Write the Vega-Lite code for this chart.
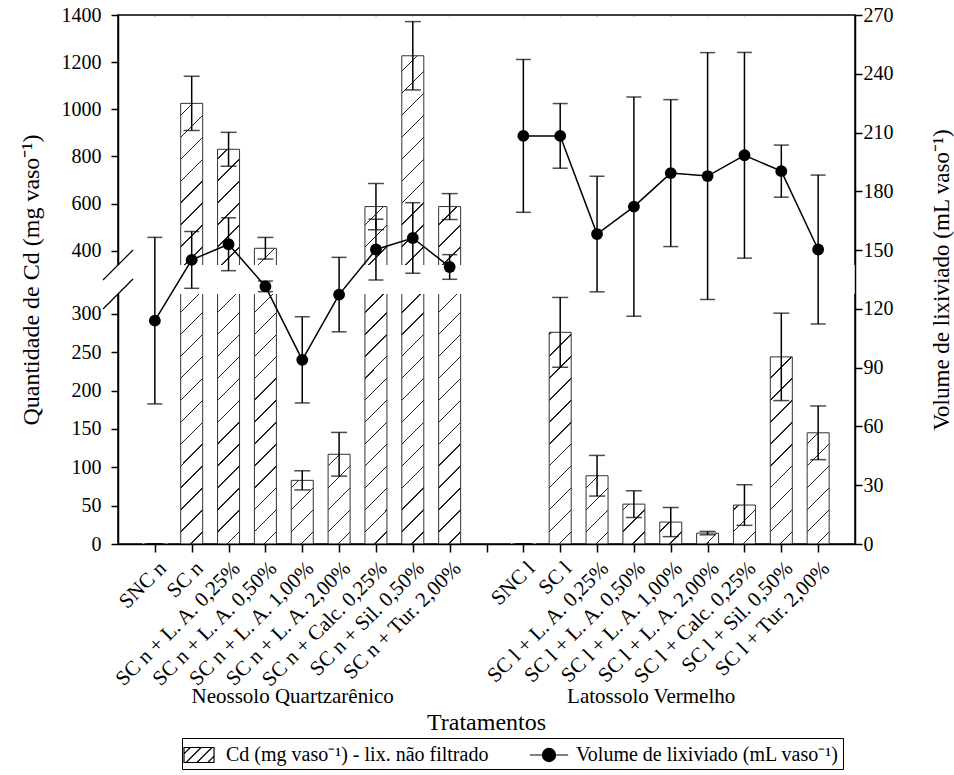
{
  "$schema": "https://vega.github.io/schema/vega-lite/v6.json",
  "width": 737,
  "height": 529,
  "autosize": {"type": "none"},
  "padding": {"left": 118, "top": 15, "right": 99, "bottom": 231},
  "background": "white",
  "config": {
    "font": "Liberation Serif",
    "view": {"stroke": "black", "strokeWidth": 1.5},
    "axis": {"labelFont": "Liberation Serif", "titleFont": "Liberation Serif", "labelColor": "black", "titleColor": "black", "domainColor": "black", "tickColor": "black", "grid": false, "labelFontSize": 20, "titleFontSize": 24, "titleFontWeight": "normal", "domainWidth": 1.5, "tickWidth": 1.5, "tickSize": 7}
  },
  "title": {"text": "Tratamentos", "orient": "bottom", "frame": "group", "anchor": "middle", "font": "Liberation Serif", "fontSize": 24, "fontWeight": "normal", "color": "black", "offset": -59},
  "data": {"values": [
    {"trat": "SNC n", "solo": "Neossolo Quartzarênico", "cd": 0, "cd_err": 0, "vol": 114, "vol_err": 42.5},
    {"trat": "SC n", "solo": "Neossolo Quartzarênico", "cd": 1025, "cd_err": 115, "vol": 145, "vol_err": 14.5},
    {"trat": "SC n + L. A. 0,25%", "solo": "Neossolo Quartzarênico", "cd": 830, "cd_err": 72, "vol": 153, "vol_err": 13.5},
    {"trat": "SC n + L. A. 0,50%", "solo": "Neossolo Quartzarênico", "cd": 410, "cd_err": 46, "vol": 131.5, "vol_err": 2.7},
    {"trat": "SC n + L. A. 1,00%", "solo": "Neossolo Quartzarênico", "cd": 83, "cd_err": 12.5, "vol": 94, "vol_err": 22},
    {"trat": "SC n + L. A. 2,00%", "solo": "Neossolo Quartzarênico", "cd": 117, "cd_err": 28.5, "vol": 127.3, "vol_err": 19},
    {"trat": "SC n + Calc. 0,25%", "solo": "Neossolo Quartzarênico", "cd": 587, "cd_err": 98, "vol": 150.3, "vol_err": 15.5},
    {"trat": "SC n + Sil. 0,50%", "solo": "Neossolo Quartzarênico", "cd": 1227, "cd_err": 145, "vol": 156.2, "vol_err": 18},
    {"trat": "SC n + Tur. 2,00%", "solo": "Neossolo Quartzarênico", "cd": 587, "cd_err": 55, "vol": 141.4, "vol_err": 6.3},
    {"trat": "SNC l", "solo": "Latossolo Vermelho", "cd": 0, "cd_err": 0, "vol": 208.3, "vol_err": 39},
    {"trat": "SC l", "solo": "Latossolo Vermelho", "cd": 276, "cd_err": 45.5, "vol": 208.3, "vol_err": 16.5},
    {"trat": "SC l + L. A. 0,25%", "solo": "Latossolo Vermelho", "cd": 89, "cd_err": 26.5, "vol": 158.2, "vol_err": 29.5},
    {"trat": "SC l + L. A. 0,50%", "solo": "Latossolo Vermelho", "cd": 52, "cd_err": 17.5, "vol": 172.2, "vol_err": 56},
    {"trat": "SC l + L. A. 1,00%", "solo": "Latossolo Vermelho", "cd": 28.6, "cd_err": 19, "vol": 189.3, "vol_err": 37.5},
    {"trat": "SC l + L. A. 2,00%", "solo": "Latossolo Vermelho", "cd": 14.2, "cd_err": 2.2, "vol": 187.8, "vol_err": 63},
    {"trat": "SC l + Calc. 0,25%", "solo": "Latossolo Vermelho", "cd": 50.8, "cd_err": 26.5, "vol": 198.4, "vol_err": 52.5},
    {"trat": "SC l + Sil. 0,50%", "solo": "Latossolo Vermelho", "cd": 244, "cd_err": 57, "vol": 190.3, "vol_err": 13.3},
    {"trat": "SC l + Tur. 2,00%", "solo": "Latossolo Vermelho", "cd": 145, "cd_err": 35, "vol": 150.3, "vol_err": 38}
  ]},
  "layer": [
    {
      "layer": [
        {
          "mark": {"type": "bar", "width": 22, "stroke": null, "fill": {"gradient": "linear", "x1": 0, "y1": 0, "x2": 0.0434, "y2": 1.0399, "stops": [
            {"offset": 0, "color": "white"},
            {"offset": 0.0187, "color": "white"}, {"offset": 0.0187, "color": "#222"}, {"offset": 0.0213, "color": "#222"}, {"offset": 0.0213, "color": "white"},
            {"offset": 0.0586, "color": "white"}, {"offset": 0.0586, "color": "#222"}, {"offset": 0.0612, "color": "#222"}, {"offset": 0.0612, "color": "white"},
            {"offset": 0.0985, "color": "white"}, {"offset": 0.0985, "color": "#222"}, {"offset": 0.1011, "color": "#222"}, {"offset": 0.1011, "color": "white"},
            {"offset": 0.1384, "color": "white"}, {"offset": 0.1384, "color": "#222"}, {"offset": 0.1410, "color": "#222"}, {"offset": 0.1410, "color": "white"},
            {"offset": 0.1783, "color": "white"}, {"offset": 0.1783, "color": "#222"}, {"offset": 0.1809, "color": "#222"}, {"offset": 0.1809, "color": "white"},
            {"offset": 0.2182, "color": "white"}, {"offset": 0.2182, "color": "#222"}, {"offset": 0.2208, "color": "#222"}, {"offset": 0.2208, "color": "white"},
            {"offset": 0.2581, "color": "white"}, {"offset": 0.2581, "color": "#222"}, {"offset": 0.2607, "color": "#222"}, {"offset": 0.2607, "color": "white"},
            {"offset": 0.2980, "color": "white"}, {"offset": 0.2980, "color": "#222"}, {"offset": 0.3006, "color": "#222"}, {"offset": 0.3006, "color": "white"},
            {"offset": 0.3379, "color": "white"}, {"offset": 0.3379, "color": "#222"}, {"offset": 0.3405, "color": "#222"}, {"offset": 0.3405, "color": "white"},
            {"offset": 0.3778, "color": "white"}, {"offset": 0.3778, "color": "#222"}, {"offset": 0.3804, "color": "#222"}, {"offset": 0.3804, "color": "white"},
            {"offset": 0.4177, "color": "white"}, {"offset": 0.4177, "color": "#222"}, {"offset": 0.4203, "color": "#222"}, {"offset": 0.4203, "color": "white"},
            {"offset": 0.4576, "color": "white"}, {"offset": 0.4576, "color": "#222"}, {"offset": 0.4602, "color": "#222"}, {"offset": 0.4602, "color": "white"},
            {"offset": 0.4975, "color": "white"}, {"offset": 0.4975, "color": "#222"}, {"offset": 0.5001, "color": "#222"}, {"offset": 0.5001, "color": "white"},
            {"offset": 0.5374, "color": "white"}, {"offset": 0.5374, "color": "#222"}, {"offset": 0.5400, "color": "#222"}, {"offset": 0.5400, "color": "white"},
            {"offset": 0.5773, "color": "white"}, {"offset": 0.5773, "color": "#222"}, {"offset": 0.5799, "color": "#222"}, {"offset": 0.5799, "color": "white"},
            {"offset": 0.6172, "color": "white"}, {"offset": 0.6172, "color": "#222"}, {"offset": 0.6198, "color": "#222"}, {"offset": 0.6198, "color": "white"},
            {"offset": 0.6571, "color": "white"}, {"offset": 0.6571, "color": "#222"}, {"offset": 0.6597, "color": "#222"}, {"offset": 0.6597, "color": "white"},
            {"offset": 0.6970, "color": "white"}, {"offset": 0.6970, "color": "#222"}, {"offset": 0.6996, "color": "#222"}, {"offset": 0.6996, "color": "white"},
            {"offset": 0.7369, "color": "white"}, {"offset": 0.7369, "color": "#222"}, {"offset": 0.7395, "color": "#222"}, {"offset": 0.7395, "color": "white"},
            {"offset": 0.7768, "color": "white"}, {"offset": 0.7768, "color": "#222"}, {"offset": 0.7794, "color": "#222"}, {"offset": 0.7794, "color": "white"},
            {"offset": 0.8167, "color": "white"}, {"offset": 0.8167, "color": "#222"}, {"offset": 0.8193, "color": "#222"}, {"offset": 0.8193, "color": "white"},
            {"offset": 0.8566, "color": "white"}, {"offset": 0.8566, "color": "#222"}, {"offset": 0.8592, "color": "#222"}, {"offset": 0.8592, "color": "white"},
            {"offset": 0.8965, "color": "white"}, {"offset": 0.8965, "color": "#222"}, {"offset": 0.8991, "color": "#222"}, {"offset": 0.8991, "color": "white"},
            {"offset": 0.9364, "color": "white"}, {"offset": 0.9364, "color": "#222"}, {"offset": 0.9390, "color": "#222"}, {"offset": 0.9390, "color": "white"},
            {"offset": 0.9763, "color": "white"}, {"offset": 0.9763, "color": "#222"}, {"offset": 0.9789, "color": "#222"}, {"offset": 0.9789, "color": "white"},
            {"offset": 1, "color": "white"}
          ]}},
          "encoding": {
            "x": {"field": "trat", "type": "nominal", "title": "Neossolo Quartzarênico\u00a0\u00a0\u00a0\u00a0\u00a0\u00a0\u00a0\u00a0\u00a0\u00a0\u00a0\u00a0\u00a0\u00a0\u00a0\u00a0\u00a0\u00a0\u00a0\u00a0\u00a0\u00a0\u00a0\u00a0\u00a0\u00a0\u00a0\u00a0\u00a0\u00a0\u00a0\u00a0\u00a0Latossolo Vermelho\u00a0\u00a0\u00a0\u00a0\u00a0\u00a0\u00a0\u00a0\u00a0\u200b",
              "scale": {"type": "point", "padding": 0, "domain": ["L", "SNC n", "SC n", "SC n + L. A. 0,25%", "SC n + L. A. 0,50%", "SC n + L. A. 1,00%", "SC n + L. A. 2,00%", "SC n + Calc. 0,25%", "SC n + Sil. 0,50%", "SC n + Tur. 2,00%", "G", "SNC l", "SC l", "SC l + L. A. 0,25%", "SC l + L. A. 0,50%", "SC l + L. A. 1,00%", "SC l + L. A. 2,00%", "SC l + Calc. 0,25%", "SC l + Sil. 0,50%", "SC l + Tur. 2,00%", "R"]},
              "axis": {"values": ["SNC n", "SC n", "SC n + L. A. 0,25%", "SC n + L. A. 0,50%", "SC n + L. A. 1,00%", "SC n + L. A. 2,00%", "SC n + Calc. 0,25%", "SC n + Sil. 0,50%", "SC n + Tur. 2,00%", "G", "SNC l", "SC l", "SC l + L. A. 0,25%", "SC l + L. A. 0,50%", "SC l + L. A. 1,00%", "SC l + L. A. 2,00%", "SC l + Calc. 0,25%", "SC l + Sil. 0,50%", "SC l + Tur. 2,00%"],
                "labelExpr": "datum.value == 'G' ? '' : datum.label", "labelFont": "Liberation Serif", "labelFontSize": 21, "labelAngle": -45, "labelAlign": "right", "labelBaseline": "top", "labelPadding": 5, "tickSize": 8, "labelOverlap": false, "labelBound": false, "labelFlush": false, "titleFont": "Liberation Serif", "titleFontSize": 21, "titlePadding": -4, "zindex": 1}},
            "y": {"datum": 0, "type": "quantitative", "title": "Quantidade de Cd (mg vaso\u207b\u00b9)",
              "scale": {"type": "linear", "domain": [0, 326, 339, 1400], "range": [529, 279, 250, 0], "nice": false, "zero": false},
              "axis": {"orient": "left", "format": "d", "values": [0, 50, 100, 150, 200, 250, 300, 400, 600, 800, 1000, 1200, 1400], "labelFont": "Liberation Serif", "titleFont": "Liberation Serif", "labelPadding": 10, "titlePadding": 18, "zindex": 0}},
            "y2": {"datum": 1393}
          }
        },
        {
          "mark": {"type": "bar", "width": 25, "fill": "white", "stroke": null},
          "encoding": {
            "x": {"field": "trat", "type": "nominal", "title": "Neossolo Quartzarênico\u00a0\u00a0\u00a0\u00a0\u00a0\u00a0\u00a0\u00a0\u00a0\u00a0\u00a0\u00a0\u00a0\u00a0\u00a0\u00a0\u00a0\u00a0\u00a0\u00a0\u00a0\u00a0\u00a0\u00a0\u00a0\u00a0\u00a0\u00a0\u00a0\u00a0\u00a0\u00a0\u00a0Latossolo Vermelho\u00a0\u00a0\u00a0\u00a0\u00a0\u00a0\u00a0\u00a0\u00a0\u200b",
              "scale": {"type": "point", "padding": 0, "domain": ["L", "SNC n", "SC n", "SC n + L. A. 0,25%", "SC n + L. A. 0,50%", "SC n + L. A. 1,00%", "SC n + L. A. 2,00%", "SC n + Calc. 0,25%", "SC n + Sil. 0,50%", "SC n + Tur. 2,00%", "G", "SNC l", "SC l", "SC l + L. A. 0,25%", "SC l + L. A. 0,50%", "SC l + L. A. 1,00%", "SC l + L. A. 2,00%", "SC l + Calc. 0,25%", "SC l + Sil. 0,50%", "SC l + Tur. 2,00%", "R"]}},
            "y": {"field": "cd", "type": "quantitative", "title": "Quantidade de Cd (mg vaso\u207b\u00b9)"},
            "y2": {"datum": 1393}
          }
        },
        {
          "mark": {"type": "bar", "width": 22, "fillOpacity": 0, "stroke": "#333", "strokeWidth": 1},
          "encoding": {
            "x": {"field": "trat", "type": "nominal", "title": "Neossolo Quartzarênico\u00a0\u00a0\u00a0\u00a0\u00a0\u00a0\u00a0\u00a0\u00a0\u00a0\u00a0\u00a0\u00a0\u00a0\u00a0\u00a0\u00a0\u00a0\u00a0\u00a0\u00a0\u00a0\u00a0\u00a0\u00a0\u00a0\u00a0\u00a0\u00a0\u00a0\u00a0\u00a0\u00a0Latossolo Vermelho\u00a0\u00a0\u00a0\u00a0\u00a0\u00a0\u00a0\u00a0\u00a0\u200b",
              "scale": {"type": "point", "padding": 0, "domain": ["L", "SNC n", "SC n", "SC n + L. A. 0,25%", "SC n + L. A. 0,50%", "SC n + L. A. 1,00%", "SC n + L. A. 2,00%", "SC n + Calc. 0,25%", "SC n + Sil. 0,50%", "SC n + Tur. 2,00%", "G", "SNC l", "SC l", "SC l + L. A. 0,25%", "SC l + L. A. 0,50%", "SC l + L. A. 1,00%", "SC l + L. A. 2,00%", "SC l + Calc. 0,25%", "SC l + Sil. 0,50%", "SC l + Tur. 2,00%", "R"]}},
            "y": {"field": "cd", "type": "quantitative", "title": "Quantidade de Cd (mg vaso\u207b\u00b9)"},
            "y2": {"datum": 0}
          }
        },
        {
          "data": {"values": [{}]},
          "mark": {"type": "rect", "fill": "white", "stroke": "white", "strokeWidth": 3},
          "encoding": {
            "y": {"datum": 326.7, "type": "quantitative", "title": "Quantidade de Cd (mg vaso\u207b\u00b9)"},
            "y2": {"datum": 338.3}
          }
        },
        {
          "data": {"values": [{}]},
          "mark": {"type": "point", "shape": "M-1,1L1,-1", "size": 900, "filled": false, "color": "black", "strokeWidth": 1.2, "opacity": 1},
          "encoding": {
            "x": {"datum": "L", "type": "nominal", "title": "Neossolo Quartzarênico\u00a0\u00a0\u00a0\u00a0\u00a0\u00a0\u00a0\u00a0\u00a0\u00a0\u00a0\u00a0\u00a0\u00a0\u00a0\u00a0\u00a0\u00a0\u00a0\u00a0\u00a0\u00a0\u00a0\u00a0\u00a0\u00a0\u00a0\u00a0\u00a0\u00a0\u00a0\u00a0\u00a0Latossolo Vermelho\u00a0\u00a0\u00a0\u00a0\u00a0\u00a0\u00a0\u00a0\u00a0\u200b",
              "scale": {"type": "point", "padding": 0, "domain": ["L", "SNC n", "SC n", "SC n + L. A. 0,25%", "SC n + L. A. 0,50%", "SC n + L. A. 1,00%", "SC n + L. A. 2,00%", "SC n + Calc. 0,25%", "SC n + Sil. 0,50%", "SC n + Tur. 2,00%", "G", "SNC l", "SC l", "SC l + L. A. 0,25%", "SC l + L. A. 0,50%", "SC l + L. A. 1,00%", "SC l + L. A. 2,00%", "SC l + Calc. 0,25%", "SC l + Sil. 0,50%", "SC l + Tur. 2,00%", "R"]}},
            "y": {"datum": 339, "type": "quantitative", "title": "Quantidade de Cd (mg vaso\u207b\u00b9)"}
          }
        },
        {
          "data": {"values": [{}]},
          "mark": {"type": "point", "shape": "M-1,1L1,-1", "size": 900, "filled": false, "color": "black", "strokeWidth": 1.2, "opacity": 1},
          "encoding": {
            "x": {"datum": "L", "type": "nominal", "title": "Neossolo Quartzarênico\u00a0\u00a0\u00a0\u00a0\u00a0\u00a0\u00a0\u00a0\u00a0\u00a0\u00a0\u00a0\u00a0\u00a0\u00a0\u00a0\u00a0\u00a0\u00a0\u00a0\u00a0\u00a0\u00a0\u00a0\u00a0\u00a0\u00a0\u00a0\u00a0\u00a0\u00a0\u00a0\u00a0Latossolo Vermelho\u00a0\u00a0\u00a0\u00a0\u00a0\u00a0\u00a0\u00a0\u00a0\u200b",
              "scale": {"type": "point", "padding": 0, "domain": ["L", "SNC n", "SC n", "SC n + L. A. 0,25%", "SC n + L. A. 0,50%", "SC n + L. A. 1,00%", "SC n + L. A. 2,00%", "SC n + Calc. 0,25%", "SC n + Sil. 0,50%", "SC n + Tur. 2,00%", "G", "SNC l", "SC l", "SC l + L. A. 0,25%", "SC l + L. A. 0,50%", "SC l + L. A. 1,00%", "SC l + L. A. 2,00%", "SC l + Calc. 0,25%", "SC l + Sil. 0,50%", "SC l + Tur. 2,00%", "R"]}},
            "y": {"datum": 326, "type": "quantitative", "title": "Quantidade de Cd (mg vaso\u207b\u00b9)"}
          }
        },
        {
          "mark": {"type": "errorbar", "ticks": {"size": 16, "color": "black", "thickness": 1.5}, "rule": {"color": "black", "strokeWidth": 1.5}},
          "encoding": {
            "x": {"field": "trat", "type": "nominal", "title": "Neossolo Quartzarênico\u00a0\u00a0\u00a0\u00a0\u00a0\u00a0\u00a0\u00a0\u00a0\u00a0\u00a0\u00a0\u00a0\u00a0\u00a0\u00a0\u00a0\u00a0\u00a0\u00a0\u00a0\u00a0\u00a0\u00a0\u00a0\u00a0\u00a0\u00a0\u00a0\u00a0\u00a0\u00a0\u00a0Latossolo Vermelho\u00a0\u00a0\u00a0\u00a0\u00a0\u00a0\u00a0\u00a0\u00a0\u200b",
              "scale": {"type": "point", "padding": 0, "domain": ["L", "SNC n", "SC n", "SC n + L. A. 0,25%", "SC n + L. A. 0,50%", "SC n + L. A. 1,00%", "SC n + L. A. 2,00%", "SC n + Calc. 0,25%", "SC n + Sil. 0,50%", "SC n + Tur. 2,00%", "G", "SNC l", "SC l", "SC l + L. A. 0,25%", "SC l + L. A. 0,50%", "SC l + L. A. 1,00%", "SC l + L. A. 2,00%", "SC l + Calc. 0,25%", "SC l + Sil. 0,50%", "SC l + Tur. 2,00%", "R"]}},
            "y": {"field": "cd", "type": "quantitative", "title": "Quantidade de Cd (mg vaso\u207b\u00b9)"},
            "yError": {"field": "cd_err"}
          }
        }
      ]
    },
    {
      "layer": [
        {
          "mark": {"type": "errorbar", "ticks": {"size": 15, "color": "black", "thickness": 1.5}, "rule": {"color": "black", "strokeWidth": 1.5}},
          "encoding": {
            "x": {"field": "trat", "type": "nominal", "title": "Neossolo Quartzarênico\u00a0\u00a0\u00a0\u00a0\u00a0\u00a0\u00a0\u00a0\u00a0\u00a0\u00a0\u00a0\u00a0\u00a0\u00a0\u00a0\u00a0\u00a0\u00a0\u00a0\u00a0\u00a0\u00a0\u00a0\u00a0\u00a0\u00a0\u00a0\u00a0\u00a0\u00a0\u00a0\u00a0Latossolo Vermelho\u00a0\u00a0\u00a0\u00a0\u00a0\u00a0\u00a0\u00a0\u00a0\u200b",
              "scale": {"type": "point", "padding": 0, "domain": ["L", "SNC n", "SC n", "SC n + L. A. 0,25%", "SC n + L. A. 0,50%", "SC n + L. A. 1,00%", "SC n + L. A. 2,00%", "SC n + Calc. 0,25%", "SC n + Sil. 0,50%", "SC n + Tur. 2,00%", "G", "SNC l", "SC l", "SC l + L. A. 0,25%", "SC l + L. A. 0,50%", "SC l + L. A. 1,00%", "SC l + L. A. 2,00%", "SC l + Calc. 0,25%", "SC l + Sil. 0,50%", "SC l + Tur. 2,00%", "R"]}},
            "y": {"field": "vol", "type": "quantitative", "title": "Volume de lixiviado (mL vaso\u207b\u00b9)",
              "scale": {"domain": [0, 270], "nice": false},
              "axis": {"orient": "right", "values": [0, 30, 60, 90, 120, 150, 180, 210, 240, 270], "labelFont": "Liberation Serif", "titleFont": "Liberation Serif", "labelPadding": 1, "titleAngle": 270, "titleBaseline": "top", "titlePadding": 37, "titleFontSize": 23, "zindex": 1}},
            "yError": {"field": "vol_err"}
          }
        },
        {
          "mark": {"type": "line", "color": "black", "strokeWidth": 1.5},
          "encoding": {
            "x": {"field": "trat", "type": "nominal", "title": "Neossolo Quartzarênico\u00a0\u00a0\u00a0\u00a0\u00a0\u00a0\u00a0\u00a0\u00a0\u00a0\u00a0\u00a0\u00a0\u00a0\u00a0\u00a0\u00a0\u00a0\u00a0\u00a0\u00a0\u00a0\u00a0\u00a0\u00a0\u00a0\u00a0\u00a0\u00a0\u00a0\u00a0\u00a0\u00a0Latossolo Vermelho\u00a0\u00a0\u00a0\u00a0\u00a0\u00a0\u00a0\u00a0\u00a0\u200b",
              "scale": {"type": "point", "padding": 0, "domain": ["L", "SNC n", "SC n", "SC n + L. A. 0,25%", "SC n + L. A. 0,50%", "SC n + L. A. 1,00%", "SC n + L. A. 2,00%", "SC n + Calc. 0,25%", "SC n + Sil. 0,50%", "SC n + Tur. 2,00%", "G", "SNC l", "SC l", "SC l + L. A. 0,25%", "SC l + L. A. 0,50%", "SC l + L. A. 1,00%", "SC l + L. A. 2,00%", "SC l + Calc. 0,25%", "SC l + Sil. 0,50%", "SC l + Tur. 2,00%", "R"]}},
            "y": {"field": "vol", "type": "quantitative", "title": "Volume de lixiviado (mL vaso\u207b\u00b9)"},
            "detail": {"field": "solo"},
            "order": {"value": null}
          }
        },
        {
          "mark": {"type": "point", "filled": true, "color": "black", "size": 140, "opacity": 1},
          "encoding": {
            "x": {"field": "trat", "type": "nominal", "title": "Neossolo Quartzarênico\u00a0\u00a0\u00a0\u00a0\u00a0\u00a0\u00a0\u00a0\u00a0\u00a0\u00a0\u00a0\u00a0\u00a0\u00a0\u00a0\u00a0\u00a0\u00a0\u00a0\u00a0\u00a0\u00a0\u00a0\u00a0\u00a0\u00a0\u00a0\u00a0\u00a0\u00a0\u00a0\u00a0Latossolo Vermelho\u00a0\u00a0\u00a0\u00a0\u00a0\u00a0\u00a0\u00a0\u00a0\u200b",
              "scale": {"type": "point", "padding": 0, "domain": ["L", "SNC n", "SC n", "SC n + L. A. 0,25%", "SC n + L. A. 0,50%", "SC n + L. A. 1,00%", "SC n + L. A. 2,00%", "SC n + Calc. 0,25%", "SC n + Sil. 0,50%", "SC n + Tur. 2,00%", "G", "SNC l", "SC l", "SC l + L. A. 0,25%", "SC l + L. A. 0,50%", "SC l + L. A. 1,00%", "SC l + L. A. 2,00%", "SC l + Calc. 0,25%", "SC l + Sil. 0,50%", "SC l + Tur. 2,00%", "R"]}},
            "y": {"field": "vol", "type": "quantitative", "title": "Volume de lixiviado (mL vaso\u207b\u00b9)"}
          }
        },
        {
          "data": {"values": [{"serie": "Cd (mg vaso\u207b\u00b9) - lix. não filtrado"}, {"serie": "Volume de lixiviado (mL vaso\u207b\u00b9)"}]},
          "mark": {"type": "point", "opacity": 0, "size": 576, "filled": false},
          "encoding": {
            "shape": {"field": "serie", "type": "nominal",
              "scale": {"domain": ["Cd (mg vaso\u207b\u00b9) - lix. não filtrado", "Volume de lixiviado (mL vaso\u207b\u00b9)"], "range": [
                "M-1.25,-0.625H1.25V0.625H-1.25Z M-1.25,-0.1L-0.725,-0.625 M-1.075,0.625L0.175,-0.625 M-0.175,0.625L1.075,-0.625 M0.725,0.625L1.25,0.1",
                "M-1.6,0H1.6 M0.55,0A0.55,0.55,0,1,1,-0.55,0A0.55,0.55,0,1,1,0.55,0 M0.47,0A0.47,0.47,0,1,1,-0.47,0A0.47,0.47,0,1,1,0.47,0 M0.39,0A0.39,0.39,0,1,1,-0.39,0A0.39,0.39,0,1,1,0.39,0 M0.31,0A0.31,0.31,0,1,1,-0.31,0A0.31,0.31,0,1,1,0.31,0 M0.23,0A0.23,0.23,0,1,1,-0.23,0A0.23,0.23,0,1,1,0.23,0 M0.15,0A0.15,0.15,0,1,1,-0.15,0A0.15,0.15,0,1,1,0.15,0 M0.07,0A0.07,0.07,0,1,1,-0.07,0A0.07,0.07,0,1,1,0.07,0"
              ]},
              "legend": {"title": null, "orient": "none", "legendX": 64, "legendY": 723, "direction": "horizontal", "strokeColor": "black", "padding": 4,
                "symbolSize": 576, "symbolStrokeWidth": 1.2, "symbolStrokeColor": "black", "symbolOpacity": 1,
                "labelFont": "Liberation Serif", "labelFontSize": 20, "labelColor": "black", "labelLimit": 600, "labelOffset": 14, "columnPadding": 38}}
          }
        }
      ]
    }
  ],
  "resolve": {"scale": {"y": "independent"}}
}
